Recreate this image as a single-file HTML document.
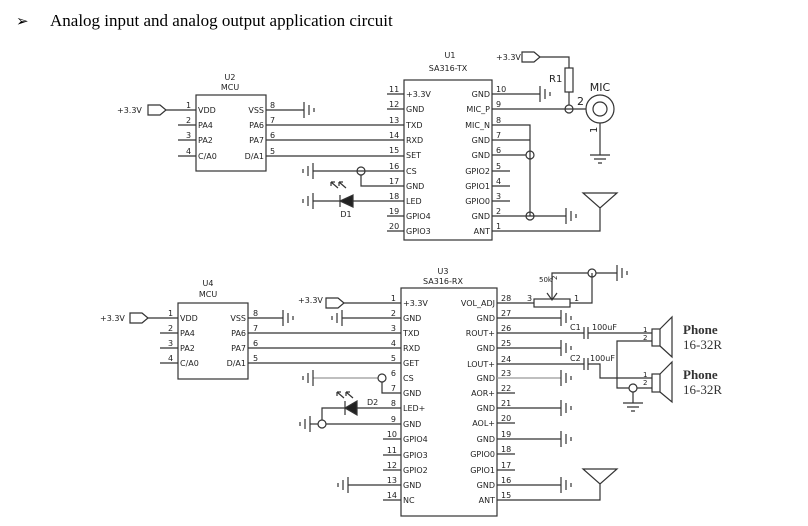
<!DOCTYPE html>
<html><head><meta charset="utf-8"><style>
html,body{margin:0;padding:0;background:#fff;width:808px;height:526px;overflow:hidden}
svg{display:block}
text{font-family:"DejaVu Sans","Liberation Sans",sans-serif;font-size:8px;fill:#222}
.s{font-family:"Liberation Serif",serif;font-size:13px;fill:#333;font-weight:bold}
</style></head><body>
<svg width="808" height="526" viewBox="0 0 808 526" xmlns="http://www.w3.org/2000/svg">
<defs>
<g id="gr"><line x1="0" y1="-8" x2="0" y2="8"/><line x1="5" y1="-5" x2="5" y2="5"/><line x1="10" y1="-2" x2="10" y2="2"/></g>
<g id="gl"><line x1="0" y1="-8" x2="0" y2="8"/><line x1="-5" y1="-5" x2="-5" y2="5"/><line x1="-10" y1="-2" x2="-10" y2="2"/></g>
</defs>
<text x="16" y="26" style="font-family:'DejaVu Sans',sans-serif;font-size:15px;fill:#000">➢</text>
<text x="50" y="26" style="font-family:'Liberation Serif',serif;font-size:17px;fill:#000">Analog input and analog output application circuit</text>

<g stroke="#333" stroke-width="1.2" fill="none">
<!-- U2 -->
<rect x="196" y="95" width="70" height="76"/>
<line x1="166" y1="110" x2="196" y2="110"/>
<line x1="178" y1="125" x2="196" y2="125"/><line x1="178" y1="140" x2="196" y2="140"/><line x1="178" y1="156" x2="196" y2="156"/>
<path d="M148 105h12l6 5-6 5h-12z"/>
<line x1="266" y1="110" x2="304" y2="110"/><use href="#gr" x="304" y="110"/>
<line x1="266" y1="125" x2="404" y2="125"/><line x1="266" y1="140" x2="404" y2="140"/><line x1="266" y1="156" x2="404" y2="156"/>
<!-- U1 -->
<rect x="404" y="80" width="88" height="160"/>
<line x1="387" y1="94" x2="404" y2="94"/><line x1="387" y1="109" x2="404" y2="109"/>
<line x1="313" y1="171" x2="404" y2="171"/><use href="#gl" x="313" y="171"/>
<circle cx="361" cy="171" r="4"/><path d="M361 175v11h43"/>
<line x1="313" y1="201" x2="404" y2="201"/><use href="#gl" x="313" y="201"/>
<path d="M353 195l-13 6 13 6z" fill="#222"/><line x1="340" y1="195" x2="340" y2="207"/>
<line x1="387" y1="216" x2="404" y2="216"/><line x1="387" y1="231" x2="404" y2="231"/>
<path d="M338 188l-7-6m0 0v4m0-4h4M346 188l-7-6m0 0v4m0-4h4"/>
<line x1="492" y1="94" x2="540" y2="94"/><use href="#gr" x="540" y="94"/>
<line x1="492" y1="109" x2="586" y2="109"/>
<circle cx="569" cy="109" r="4"/>
<path d="M522 52h12l6 5-6 5h-12z"/><path d="M540 57h29v11"/>
<rect x="565" y="68" width="8" height="24"/><line x1="569" y1="92" x2="569" y2="105"/>
<circle cx="600" cy="109" r="14"/><circle cx="600" cy="109" r="7"/>
<path d="M600 123v32M590 155h20M594 159h12M598 163h4"/>
<path d="M492 125h38v91"/><line x1="492" y1="140" x2="530" y2="140"/><line x1="492" y1="155" x2="526" y2="155"/>
<circle cx="530" cy="155" r="4"/><circle cx="530" cy="216" r="4"/>
<line x1="492" y1="171" x2="510" y2="171"/><line x1="492" y1="186" x2="510" y2="186"/><line x1="492" y1="201" x2="510" y2="201"/>
<line x1="492" y1="216" x2="566" y2="216"/><use href="#gr" x="566" y="216"/>
<path d="M492 231h108v-24M583 193h34l-17 15z"/>

<!-- U4 -->
<rect x="178" y="303" width="70" height="76"/>
<path d="M130 313h12l6 5-6 5h-12z"/><line x1="148" y1="318" x2="178" y2="318"/>
<line x1="160" y1="333" x2="178" y2="333"/><line x1="160" y1="348" x2="178" y2="348"/><line x1="160" y1="363" x2="178" y2="363"/>
<line x1="248" y1="318" x2="283" y2="318"/><use href="#gr" x="283" y="318"/>
<line x1="248" y1="333" x2="401" y2="333"/><line x1="248" y1="348" x2="401" y2="348"/><line x1="248" y1="363" x2="401" y2="363"/>
<!-- U3 -->
<rect x="401" y="288" width="96" height="228"/>
<path d="M326 298h12l6 5-6 5h-12z"/><line x1="344" y1="303" x2="401" y2="303"/>
<line x1="342" y1="318" x2="401" y2="318"/><use href="#gl" x="342" y="318"/>
<line x1="313" y1="378" x2="378" y2="378" stroke="#999"/><use href="#gl" x="313" y="378"/>
<circle cx="382" cy="378" r="4"/><path d="M382 382v11h19"/>
<line x1="357" y1="408" x2="401" y2="408"/>
<path d="M357 401l-12 7 12 7z" fill="#222"/><path d="M345 401v14M345 408h-23v12"/>
<circle cx="322" cy="424" r="4"/>
<line x1="310" y1="424" x2="318" y2="424"/><line x1="326" y1="424" x2="401" y2="424"/><use href="#gl" x="310" y="424"/>
<path d="M344 398l-7-6m0 0v4m0-4h4M353 398l-7-6m0 0v4m0-4h4"/>
<line x1="383" y1="439" x2="401" y2="439"/><line x1="383" y1="455" x2="401" y2="455"/><line x1="383" y1="470" x2="401" y2="470"/>
<line x1="348" y1="485" x2="401" y2="485"/><use href="#gl" x="348" y="485"/>
<line x1="383" y1="500" x2="401" y2="500"/>
<!-- right of U3 -->
<line x1="497" y1="303" x2="534" y2="303"/><rect x="534" y="299" width="36" height="8"/>
<path d="M570 303h22v-30M588 273h-36v27M547 293l5 7 5-7"/>
<circle cx="592" cy="273" r="4"/><line x1="596" y1="273" x2="617" y2="273"/><use href="#gr" x="617" y="273"/>
<line x1="497" y1="318" x2="561" y2="318"/><use href="#gr" x="561" y="318"/>
<line x1="497" y1="333" x2="584" y2="333"/><line x1="584" y1="327" x2="584" y2="339"/><line x1="588" y1="327" x2="588" y2="339"/>
<line x1="588" y1="333" x2="652" y2="333"/>
<line x1="497" y1="348" x2="561" y2="348"/><use href="#gr" x="561" y="348"/>
<line x1="497" y1="364" x2="584" y2="364"/><line x1="584" y1="358" x2="584" y2="370"/><line x1="588" y1="358" x2="588" y2="370"/>
<path d="M588 364h12v14h52"/>
<line x1="497" y1="378" x2="561" y2="378" stroke="#999"/><use href="#gr" x="561" y="378"/>
<line x1="497" y1="393" x2="515" y2="393"/>
<line x1="497" y1="408" x2="561" y2="408"/><use href="#gr" x="561" y="408"/>
<line x1="497" y1="423" x2="515" y2="423"/>
<line x1="497" y1="439" x2="561" y2="439"/><use href="#gr" x="561" y="439"/>
<line x1="497" y1="454" x2="515" y2="454"/><line x1="497" y1="470" x2="515" y2="470"/>
<line x1="497" y1="485" x2="561" y2="485"/><use href="#gr" x="561" y="485"/>
<path d="M497 500h103v-17M583 469h34l-17 15z"/>
<!-- speakers -->
<path d="M652 341h-35v47h12M637 388h15"/>
<circle cx="633" cy="388" r="4"/><path d="M633 392v11M623 403h20M627 407h12M631 411h4"/>
<rect x="652" y="329" width="8" height="17"/><path d="M660 329l12-12v40l-12-11"/>
<rect x="652" y="374" width="8" height="18"/><path d="M660 374l12-12v40l-12-10"/>
</g>

<g>
<text x="230" y="80" text-anchor="middle">U2</text><text x="230" y="90" text-anchor="middle">MCU</text>
<text x="117" y="113">+3.3V</text>
<text x="186" y="108">1</text><text x="186" y="123">2</text><text x="186" y="138">3</text><text x="186" y="154">4</text>
<text x="198" y="113">VDD</text><text x="198" y="128">PA4</text><text x="198" y="143">PA2</text><text x="198" y="159">C/A0</text>
<text x="264" y="113" text-anchor="end">VSS</text><text x="264" y="128" text-anchor="end">PA6</text><text x="264" y="143" text-anchor="end">PA7</text><text x="264" y="159" text-anchor="end">D/A1</text>
<text x="270" y="108">8</text><text x="270" y="123">7</text><text x="270" y="138">6</text><text x="270" y="154">5</text>
<text x="450" y="58" text-anchor="middle">U1</text><text x="448" y="71" text-anchor="middle">SA316-TX</text>
<text x="389" y="92">11</text><text x="389" y="107">12</text><text x="389" y="123">13</text><text x="389" y="138">14</text><text x="389" y="153">15</text><text x="389" y="169">16</text><text x="389" y="184">17</text><text x="389" y="199">18</text><text x="389" y="214">19</text><text x="389" y="229">20</text>
<text x="406" y="97">+3.3V</text><text x="406" y="112">GND</text><text x="406" y="128">TXD</text><text x="406" y="143">RXD</text><text x="406" y="158">SET</text><text x="406" y="174">CS</text><text x="406" y="189">GND</text><text x="406" y="204">LED</text><text x="406" y="219">GPIO4</text><text x="406" y="234">GPIO3</text>
<text x="490" y="97" text-anchor="end">GND</text><text x="490" y="112" text-anchor="end">MIC_P</text><text x="490" y="128" text-anchor="end">MIC_N</text><text x="490" y="143" text-anchor="end">GND</text><text x="490" y="158" text-anchor="end">GND</text><text x="490" y="174" text-anchor="end">GPIO2</text><text x="490" y="189" text-anchor="end">GPIO1</text><text x="490" y="204" text-anchor="end">GPIO0</text><text x="490" y="219" text-anchor="end">GND</text><text x="490" y="234" text-anchor="end">ANT</text>
<text x="496" y="92">10</text><text x="496" y="107">9</text><text x="496" y="123">8</text><text x="496" y="138">7</text><text x="496" y="153">6</text><text x="496" y="169">5</text><text x="496" y="184">4</text><text x="496" y="199">3</text><text x="496" y="214">2</text><text x="496" y="229">1</text>
<text x="346" y="217" text-anchor="middle">D1</text>
<text x="496" y="60">+3.3V</text>
<text x="549" y="82" style="font-size:10px">R1</text>
<text x="577" y="105" style="font-size:11px">2</text>
<text x="600" y="91" text-anchor="middle" style="font-size:11px">MIC</text>
<text x="0" y="0" transform="translate(597,133) rotate(-90)" style="font-size:10px">1</text>

<text x="208" y="286" text-anchor="middle">U4</text><text x="208" y="297" text-anchor="middle">MCU</text>
<text x="100" y="321">+3.3V</text>
<text x="168" y="316">1</text><text x="168" y="331">2</text><text x="168" y="346">3</text><text x="168" y="361">4</text>
<text x="180" y="321">VDD</text><text x="180" y="336">PA4</text><text x="180" y="351">PA2</text><text x="180" y="366">C/A0</text>
<text x="246" y="321" text-anchor="end">VSS</text><text x="246" y="336" text-anchor="end">PA6</text><text x="246" y="351" text-anchor="end">PA7</text><text x="246" y="366" text-anchor="end">D/A1</text>
<text x="253" y="316">8</text><text x="253" y="331">7</text><text x="253" y="346">6</text><text x="253" y="361">5</text>
<text x="443" y="274" text-anchor="middle">U3</text><text x="443" y="284" text-anchor="middle">SA316-RX</text>
<text x="298" y="303">+3.3V</text>
<text x="396" y="301" text-anchor="end">1</text><text x="396" y="316" text-anchor="end">2</text><text x="396" y="331" text-anchor="end">3</text><text x="396" y="346" text-anchor="end">4</text><text x="396" y="361" text-anchor="end">5</text><text x="396" y="376" text-anchor="end">6</text><text x="396" y="391" text-anchor="end">7</text><text x="396" y="406" text-anchor="end">8</text><text x="396" y="422" text-anchor="end">9</text><text x="397" y="437" text-anchor="end">10</text><text x="397" y="453" text-anchor="end">11</text><text x="397" y="468" text-anchor="end">12</text><text x="397" y="483" text-anchor="end">13</text><text x="397" y="498" text-anchor="end">14</text>
<text x="403" y="306">+3.3V</text><text x="403" y="321">GND</text><text x="403" y="336">TXD</text><text x="403" y="351">RXD</text><text x="403" y="366">GET</text><text x="403" y="381">CS</text><text x="403" y="396">GND</text><text x="403" y="411">LED+</text><text x="403" y="427">GND</text><text x="403" y="442">GPIO4</text><text x="403" y="458">GPIO3</text><text x="403" y="473">GPIO2</text><text x="403" y="488">GND</text><text x="403" y="503">NC</text>
<text x="495" y="306" text-anchor="end">VOL_ADJ</text><text x="495" y="321" text-anchor="end">GND</text><text x="495" y="336" text-anchor="end">ROUT+</text><text x="495" y="351" text-anchor="end">GND</text><text x="495" y="367" text-anchor="end">LOUT+</text><text x="495" y="381" text-anchor="end">GND</text><text x="495" y="396" text-anchor="end">AOR+</text><text x="495" y="411" text-anchor="end">GND</text><text x="495" y="426" text-anchor="end">AOL+</text><text x="495" y="442" text-anchor="end">GND</text><text x="495" y="457" text-anchor="end">GPIO0</text><text x="495" y="473" text-anchor="end">GPIO1</text><text x="495" y="488" text-anchor="end">GND</text><text x="495" y="503" text-anchor="end">ANT</text>
<text x="501" y="301">28</text><text x="501" y="316">27</text><text x="501" y="331">26</text><text x="501" y="346">25</text><text x="501" y="362">24</text><text x="501" y="376">23</text><text x="501" y="391">22</text><text x="501" y="406">21</text><text x="501" y="421">20</text><text x="501" y="437">19</text><text x="501" y="452">18</text><text x="501" y="468">17</text><text x="501" y="483">16</text><text x="501" y="498">15</text>
<text x="367" y="405">D2</text>
<text x="527" y="301">3</text><text x="574" y="301">1</text>
<text x="539" y="282" style="font-size:7px">50k</text>
<text x="0" y="0" transform="translate(557,280) rotate(-90)" style="font-size:7px">2</text>
<text x="570" y="330">C1</text><text x="592" y="330">100uF</text>
<text x="570" y="361">C2</text><text x="590" y="361">100uF</text>
<text x="643" y="332" style="font-size:7px">1</text><text x="643" y="340" style="font-size:7px">2</text>
<text x="643" y="377" style="font-size:7px">1</text><text x="643" y="385" style="font-size:7px">2</text>
<text class="s" x="683" y="334">Phone</text><text class="s" x="683" y="349" style="font-weight:normal">16-32R</text>
<text class="s" x="683" y="379">Phone</text><text class="s" x="683" y="394" style="font-weight:normal">16-32R</text>
</g>
</svg>
</body></html>
